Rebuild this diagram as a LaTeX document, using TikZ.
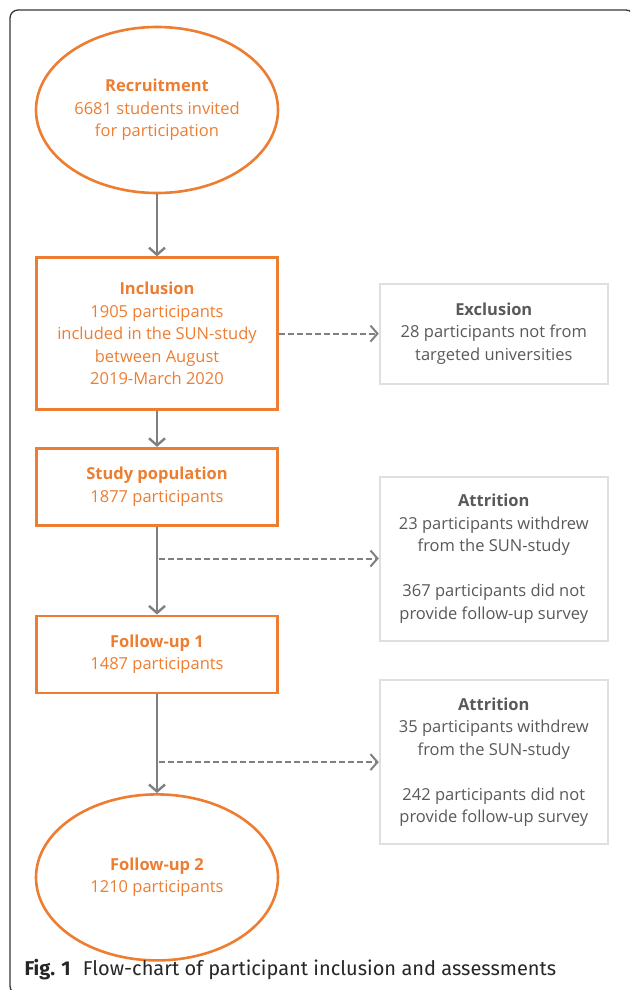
\documentclass[tikz,border=0pt]{standalone}
\usepackage{fontspec}
\setmainfont{Open Sans}
\newfontfamily\capfont{Fira Sans}
\usetikzlibrary{positioning,shapes.geometric,arrows.meta}

\begin{document}
\begin{tikzpicture}[
            x=1pt, y=1pt,
            node distance=30pt,
            >={Straight Barb[length=7pt,width=16pt]},
            txt/.style={font=\fontsize{16.5}{22.5}\selectfont, align=center},
            stage/.style={txt, draw=orx, text=orx, line width=2.6pt, inner sep=0pt, minimum width=241pt},
            oval/.style={stage, ellipse, minimum width=242pt, minimum height=166pt},
            sidebox/.style={txt, draw=lgx, text=dgx, line width=2pt, inner sep=0pt, minimum width=228pt},
            flow/.style={->, draw=gyx, line width=2.4pt},
            branch/.style={->, draw=gyx, line width=2pt, dash pattern=on 6pt off 3pt}
        ]
            \definecolor{orx}{RGB}{237,125,49}
            \definecolor{gyx}{RGB}{128,128,128}
            \definecolor{lgx}{RGB}{224,222,222}
            \definecolor{dgx}{RGB}{89,89,89}
            \definecolor{frx}{RGB}{55,55,55}

            \useasboundingbox (0,0) rectangle (630,-990);
            \clip (0,0) rectangle (630,-990);
            \draw [frx, line width=1.3pt, rounded corners=8pt] (10,-10) rectangle (634,-994);

            % main column
            \node (recruit) [oval] at (157,-110) {\textbf{Recruitment}\\6681 students invited\\for participation};
            \node (incl)  [stage, minimum height=152pt, below=62pt of recruit] {\textbf{Inclusion}\\1905 participants\\included in the SUN-study\\between August\\2019-March 2020};
            \node (study) [stage, minimum height=77pt, below=36pt of incl] {\textbf{Study population}\\1877 participants};
            \node (fu1)   [stage, minimum height=77pt, below=88pt of study] {\textbf{Follow-up 1}\\1487 participants};
            \node (fu2)   [oval, below=99pt of fu1] {\textbf{Follow-up 2}\\1210 participants};

            % side boxes
            \coordinate [below=32pt of study.south] (br1);
            \coordinate [below=68pt of fu1.south]   (br2);
            \node (excl) [sidebox, minimum height=100pt, right=100pt of incl] {\textbf{Exclusion}\\28 participants not from\\targeted universities};
            \node (att1) [sidebox, minimum height=164pt, anchor=west] at (excl.west |- br1) {\textbf{Attrition}\\23 participants withdrew\\from the SUN-study\\[22.5pt]367 participants did not\\provide follow-up survey};
            \node (att2) [sidebox, minimum height=164pt, anchor=west] at (excl.west |- br2) {\textbf{Attrition}\\35 participants withdrew\\from the SUN-study\\[22.5pt]242 participants did not\\provide follow-up survey};

            \draw [flow] (recruit) -- (incl);
            \draw [flow] (incl)    -- (study);
            \draw [flow] (study)   -- (fu1);
            \draw [flow] (fu1)     -- (fu2);
            \draw [branch] (incl) -- (excl);
            \draw [branch] ([xshift=2pt]br1) -- (att1);
            \draw [branch] ([xshift=2pt]br2) -- (att2);

            \node (caption) [anchor=base west, font=\capfont\fontsize{20}{24}\selectfont, text=black!85] at (21,-975) {\textbf{Fig. 1}\hspace{0.6em}Flow-chart of participant inclusion and assessments};
        \end{tikzpicture}
\end{document}
